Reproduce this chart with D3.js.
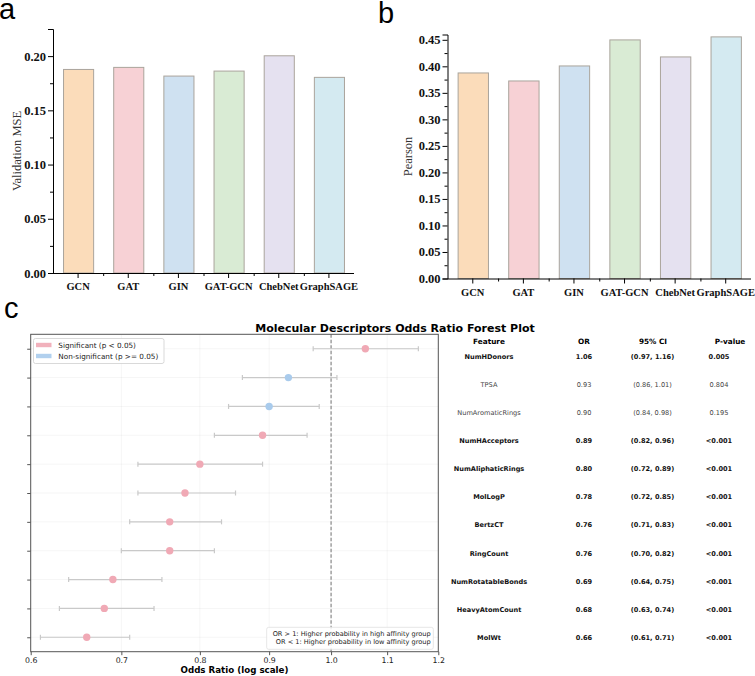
<!DOCTYPE html>
<html>
<head>
<meta charset="utf-8">
<script src="https://cdn.jsdelivr.net/npm/d3@7"></script>
<style>
  body { margin: 0; background: #fff; }
  svg { display: block; }
</style>
</head>
<body>
<div id="chart"></div>
<script>
// ---- data ----
const models = ["GCN", "GAT", "GIN", "GAT-GCN", "ChebNet", "GraphSAGE"];
const mseValues = [0.1877, 0.1896, 0.1816, 0.1862, 0.2003, 0.1804];
const pearsonValues = [0.3875, 0.3724, 0.4007, 0.4498, 0.4177, 0.4555];
const barColors = ["#fbdcba", "#f7d1d5", "#cfe1f1", "#d9ebd4", "#e5e1f0", "#d4eaf1"];
const mseTicks = [0, 0.05, 0.10, 0.15, 0.20];
const pearsonTicks = [0, 0.05, 0.10, 0.15, 0.20, 0.25, 0.30, 0.35, 0.40, 0.45];

const features = ["NumHDonors", "TPSA", "NumAromaticRings", "NumHAcceptors", "NumAliphaticRings",
  "MolLogP", "BertzCT", "RingCount", "NumRotatableBonds", "HeavyAtomCount", "MolWt"];
const orValues = [1.06, 0.93, 0.90, 0.89, 0.80, 0.78, 0.76, 0.76, 0.69, 0.68, 0.66];
const ciLow = [0.97, 0.86, 0.84, 0.82, 0.72, 0.72, 0.71, 0.70, 0.64, 0.63, 0.61];
const ciHigh = [1.16, 1.01, 0.98, 0.96, 0.89, 0.85, 0.83, 0.82, 0.75, 0.74, 0.71];
const pLabels = ["0.005", "0.804", "0.195", "<0.001", "<0.001", "<0.001", "<0.001", "<0.001", "<0.001", "<0.001", "<0.001"];
const significant = [true, false, false, true, true, true, true, true, true, true, true];
const orTicks = [0.6, 0.7, 0.8, 0.9, 1.0, 1.1, 1.2];

const W = 755, H = 676;
const serif = "'Liberation Serif', 'Times New Roman', serif";
const sans = "'DejaVu Sans', sans-serif";
const pink = "#f0a9b5", blue = "#a9cbec";

const svg = d3.select("#chart").append("svg").attr("width", W).attr("height", H);

// panel letters
svg.append("text").attr("x", -1).attr("y", 19).text("a")
  .style("font-family", "'Liberation Sans', Arial").style("font-size", "29px");
svg.append("text").attr("x", 378).attr("y", 23).text("b")
  .style("font-family", "'Liberation Sans', Arial").style("font-size", "29px");
svg.append("text").attr("x", 4).attr("y", 318).text("c")
  .style("font-family", "'Liberation Sans', Arial").style("font-size", "29px");

function barPanel(values, ticks, yMax, box, yLabel, labelX) {
  const y = d3.scaleLinear().domain([0, yMax]).range([box.bottom, box.top]);
  const x = d3.scaleBand().domain(models).range([box.left, box.right])
    .paddingInner(0.4).paddingOuter(0.2);
  const g = svg.append("g");

  g.selectAll("rect.bar").data(models).join("rect")
    .attr("class", "bar")
    .attr("x", d => x(d) + 0.5)
    .attr("y", (d, i) => y(values[i]))
    .attr("width", x.bandwidth())
    .attr("height", (d, i) => y(0) - y(values[i]))
    .attr("fill", (d, i) => barColors[i])
    .attr("stroke", "#aaa49c")
    .attr("stroke-width", 1);

  // minor y ticks
  const minor = d3.range(0.025, yMax + 1e-9, 0.05);
  g.append("g").attr("transform", `translate(${box.left},0)`)
    .call(d3.axisLeft(y).tickValues(minor).tickSize(3).tickFormat(""))
    .call(a => a.select(".domain").remove());

  // major y ticks
  g.append("g").attr("transform", `translate(${box.left},0)`)
    .call(d3.axisLeft(y).tickValues(ticks).tickSize(5).tickPadding(2).tickFormat(d3.format(".2f")))
    .call(a => a.selectAll("text").style("font-family", serif).style("font-weight", "bold")
      .style("font-size", "12.5px").attr("fill", "#111"));

  // x axis
  const xa = g.append("g").attr("transform", `translate(0,${box.bottom})`)
    .call(d3.axisBottom(x).tickSize(5).tickPadding(5).tickSizeOuter(0));
  xa.selectAll("text").style("font-family", serif).style("font-weight", "bold")
    .style("font-size", "10.5px").attr("fill", "#111");
  xa.select(".domain").attr("d", `M${box.left},0.5H${box.right}`);

  // minor ticks between bands
  const step = x.step();
  g.selectAll("line.minor").data(models.slice(0, -1)).join("line")
    .attr("class", "minor")
    .attr("x1", d => x(d) + x.bandwidth() + (step - x.bandwidth()) / 2 + 0.5)
    .attr("x2", d => x(d) + x.bandwidth() + (step - x.bandwidth()) / 2 + 0.5)
    .attr("y1", box.bottom).attr("y2", box.bottom + 3)
    .attr("stroke", "#000");

  g.append("text")
    .attr("transform", `translate(${labelX},${(box.top + box.bottom) / 2}) rotate(-90)`)
    .attr("text-anchor", "middle")
    .style("font-family", serif).style("font-size", "12.5px").attr("fill", "#333")
    .text(yLabel);
}

barPanel(mseValues, mseTicks, 0.225, { left: 53, right: 354, top: 29, bottom: 273 }, "Validation MSE", 21);
barPanel(pearsonValues, pearsonTicks, 0.46, { left: 447.5, right: 751, top: 34.5, bottom: 278.5 }, "Pearson", 412);

// ---- forest plot ----
const fp = { left: 30.7, right: 438.3, top: 334.3, bottom: 651.7 };
const xs = d3.scaleLog().domain([0.6, 1.2]).range([fp.left, fp.right]);
const ys = d3.scaleLinear().domain([-0.5, features.length - 0.5]).range([fp.top, fp.bottom]);
const fg = svg.append("g");

// faint grid
fg.selectAll("line.hg").data(features).join("line")
  .attr("x1", fp.left).attr("x2", fp.right)
  .attr("y1", (d, i) => ys(i)).attr("y2", (d, i) => ys(i))
  .attr("stroke", "#000").attr("stroke-opacity", 0.04);
fg.selectAll("line.vg").data(orTicks).join("line")
  .attr("x1", d => xs(d)).attr("x2", d => xs(d))
  .attr("y1", fp.top).attr("y2", fp.bottom)
  .attr("stroke", "#000").attr("stroke-opacity", 0.04);

// reference line
fg.append("line")
  .attr("x1", xs(1)).attr("x2", xs(1)).attr("y1", fp.top).attr("y2", fp.bottom)
  .attr("stroke", "#8a8a8a").attr("stroke-width", 1.2).attr("stroke-dasharray", "3.5,2");

// error bars
const eb = fg.selectAll("g.eb").data(features).join("g").attr("class", "eb");
eb.append("line")
  .attr("x1", (d, i) => xs(ciLow[i])).attr("x2", (d, i) => xs(ciHigh[i]))
  .attr("y1", (d, i) => ys(i)).attr("y2", (d, i) => ys(i));
eb.append("line")
  .attr("x1", (d, i) => xs(ciLow[i])).attr("x2", (d, i) => xs(ciLow[i]))
  .attr("y1", (d, i) => ys(i) - 2.5).attr("y2", (d, i) => ys(i) + 2.5);
eb.append("line")
  .attr("x1", (d, i) => xs(ciHigh[i])).attr("x2", (d, i) => xs(ciHigh[i]))
  .attr("y1", (d, i) => ys(i) - 2.5).attr("y2", (d, i) => ys(i) + 2.5);
eb.selectAll("line").attr("stroke", "#c9c9c9").attr("stroke-width", 1.2);

fg.selectAll("circle").data(features).join("circle")
  .attr("cx", (d, i) => xs(orValues[i]))
  .attr("cy", (d, i) => ys(i))
  .attr("r", 3.7)
  .attr("fill", (d, i) => significant[i] ? pink : blue);

// frame
fg.append("rect")
  .attr("x", fp.left).attr("y", fp.top)
  .attr("width", fp.right - fp.left).attr("height", fp.bottom - fp.top)
  .attr("fill", "none").attr("stroke", "#555").attr("stroke-width", 1);

// y ticks (no labels)
fg.append("g").attr("transform", `translate(${fp.left},0)`)
  .call(d3.axisLeft(ys).tickValues(d3.range(features.length)).tickSize(3.5).tickFormat(""))
  .call(a => a.select(".domain").remove())
  .call(a => a.selectAll("line").attr("stroke", "#555"));

// x axis
fg.append("g").attr("transform", `translate(0,${fp.bottom})`)
  .call(d3.axisBottom(xs).tickValues(orTicks).tickSize(3.5).tickPadding(2).tickFormat(d3.format(".1f")))
  .call(a => a.select(".domain").remove())
  .call(a => a.selectAll("line").attr("stroke", "#555"))
  .call(a => a.selectAll("text").style("font-family", sans).style("font-size", "7.8px").attr("fill", "#222"));

fg.append("text").attr("x", (fp.left + fp.right) / 2).attr("y", 673)
  .attr("text-anchor", "middle")
  .style("font-family", sans).style("font-weight", "bold").style("font-size", "8.7px")
  .text("Odds Ratio (log scale)");

svg.append("text").attr("x", 395).attr("y", 332).attr("text-anchor", "middle")
  .style("font-family", sans).style("font-weight", "bold").style("font-size", "11px")
  .text("Molecular Descriptors Odds Ratio Forest Plot");

// legend
const legendItems = [["Significant (p < 0.05)", pink], ["Non-significant (p >= 0.05)", blue]];
const lg = fg.append("g");
lg.append("rect").attr("x", 33.5).attr("y", 338.5).attr("width", 130.5).attr("height", 25)
  .attr("rx", 2).attr("fill", "#fff").attr("fill-opacity", 0.9).attr("stroke", "#cfcfcf").attr("stroke-width", 0.8);
lg.selectAll("rect.sw").data(legendItems).join("rect").attr("class", "sw")
  .attr("x", 36).attr("y", (d, i) => 342.8 + i * 11).attr("width", 15.5).attr("height", 4.4)
  .attr("fill", d => d[1]).attr("fill-opacity", 0.9);
lg.selectAll("text").data(legendItems).join("text")
  .attr("x", 58.3).attr("y", (d, i) => 347.8 + i * 11)
  .style("font-family", sans).style("font-size", "7.25px").attr("fill", "#222")
  .text(d => d[0]);

// annotation box
const notes = ["OR > 1: Higher probability in high affinity group", "OR < 1: Higher probability in low affinity group"];
fg.append("rect").attr("x", 266.7).attr("y", 627.3).attr("width", 166.6).attr("height", 22)
  .attr("rx", 2).attr("fill", "#fff").attr("fill-opacity", 0.85).attr("stroke", "#e0e0e0").attr("stroke-width", 0.8);
fg.selectAll("text.note").data(notes).join("text").attr("class", "note")
  .attr("x", 430.7).attr("y", (d, i) => 636 + i * 8.4).attr("text-anchor", "end")
  .style("font-family", sans).style("font-size", "6.6px").attr("fill", "#222")
  .text(d => d);

// table
const colX = [489, 584, 652.5, 719];
const headX = [489, 584, 653, 730];
const headers = ["Feature", "OR", "95% CI", "P-value"];
const ty = d3.scaleLinear().domain([0, features.length - 1]).range([356.7, 637.3]);
const tg = svg.append("g").style("font-family", sans).attr("text-anchor", "middle");
tg.selectAll("text.h").data(headers).join("text").attr("class", "h")
  .attr("x", (d, i) => headX[i]).attr("y", 343.5)
  .style("font-weight", "bold").style("font-size", "7.3px").text(d => d);
features.forEach((f, i) => {
  const cells = [f, orValues[i].toFixed(2),
    `(${ciLow[i].toFixed(2)}, ${ciHigh[i].toFixed(2)})`, pLabels[i]];
  tg.selectAll(null).data(cells).enter().append("text")
    .attr("x", (d, j) => colX[j]).attr("y", ty(i) + 2.4)
    .style("font-size", "6.6px")
    .style("font-weight", significant[i] ? "bold" : "normal")
    .attr("fill", significant[i] ? "#111" : "#444")
    .text(d => d);
});
</script>
</body>
</html>
